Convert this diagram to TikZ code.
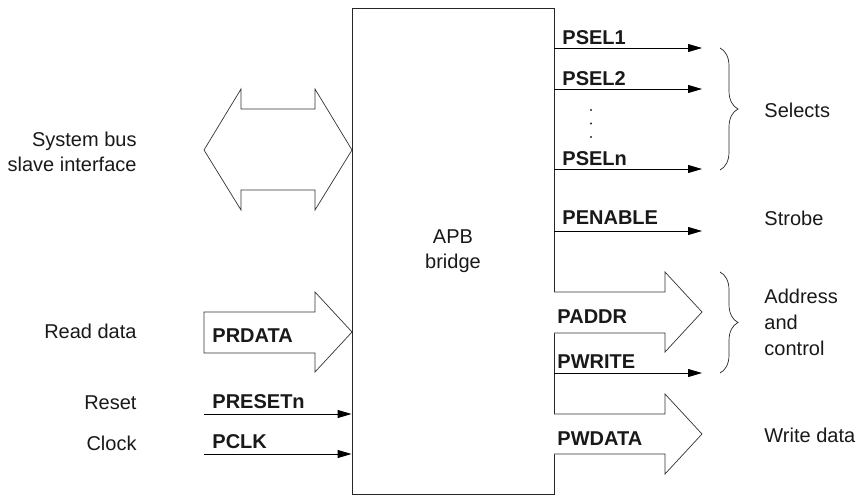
\documentclass[tikz,border=0pt]{standalone}
\usepackage{fontspec}
\setmainfont{Liberation Sans}
\usetikzlibrary{arrows.meta,decorations.pathreplacing}
\tikzset{
  txt/.style={font=\fontsize{20}{25}\selectfont, inner sep=0pt, text=black!90},
  sig/.style={txt, font=\bfseries\fontsize{20}{25}\selectfont, anchor=base west},
  fat/.style={draw=black!80, fill=white, line width=0.7pt},
  curly/.style={draw=black!85, line width=0.7pt, decorate, decoration={brace, amplitude=18pt}}
}
\begin{document}
\begin{tikzpicture}[x=1pt, y=-1pt, line width=0.9pt, >={Triangle[length=14pt,width=8pt]}]
\useasboundingbox (0,0) rectangle (866,503);
% bridge
\node[draw=black!85, txt, minimum width=202pt, minimum height=486pt, align=center] (apb) at (453,251) {APB\\bridge};
% system bus side
\draw[fat] (204,150) -- (241,89) -- (241,109) -- (315,109) -- (315,89) -- (352,150)
  -- (315,210) -- (315,190) -- (241,190) -- (241,210) -- cycle;
\node[txt, anchor=north east, align=right] (sysbus) at (137,131.5) {System bus\\slave interface};
\draw[fat] (204,312) -- (315,312) -- (315,292) -- (352,332) -- (315,372) -- (315,353) -- (204,353) -- cycle;
\node[sig] (prdata) at (212,342) {PRDATA};
\node[txt, anchor=base east] (readdata) at (137,338) {Read data};
\coordinate (rst) at (204,414);
\coordinate (clk) at (204,454);
\draw[->] (rst) -- (rst -| apb.west);
\draw[->] (clk) -- (clk -| apb.west);
\node[sig] (presetn) at (212,408) {PRESETn};
\node[sig] (pclk) at (212,448) {PCLK};
\node[txt, anchor=base east] (reset) at (137,409) {Reset};
\node[txt, anchor=base east] (clock) at (137,450) {Clock};
% selects
\coordinate (s1) at (702,48);
\coordinate (s2) at (702,89);
\coordinate (sn) at (702,169);
\coordinate (en) at (702,231);
\coordinate (wr) at (702,373);
\draw[->] (apb.east |- s1) -- (s1);
\draw[->] (apb.east |- s2) -- (s2);
\draw[->] (apb.east |- sn) -- (sn);
\draw[->] (apb.east |- en) -- (en);
\draw[->] (apb.east |- wr) -- (wr);
\node[sig] (psel1) at (562,45) {PSEL1};
\node[sig] (psel2) at (562,85) {PSEL2};
\node[sig] (pseln) at (562,165) {PSELn};
\foreach \y in {110,123.5,137} \fill[black!85] (591,\y) circle (1.1pt);
\node[sig] (penable) at (562,224) {PENABLE};
\draw[curly] (720,48) -- (720,170);
\node[txt, anchor=base west] (selects) at (764,117) {Selects};
\node[txt, anchor=base west] (strobe) at (764,225) {Strobe};
% address, control, write data
\draw[fat] (554,292) -- (665,292) -- (665,272) -- (702,312) -- (665,352) -- (665,333) -- (554,333);
\draw[fat] (554,414) -- (665,414) -- (665,394) -- (702,434) -- (665,474) -- (665,454) -- (554,454);
\node[sig] (paddr) at (557,323) {PADDR};
\node[sig] (pwrite) at (557,368) {PWRITE};
\node[sig] (pwdata) at (557,445) {PWDATA};
\draw[curly] (720,272) -- (720,373);
\node[txt, anchor=north west, align=left, font=\fontsize{20}{26}\selectfont] (addr) at (764,288.5) {Address\\and\\control};
\node[txt, anchor=base west] (wdata) at (764,442) {Write data};
\end{tikzpicture}
\end{document}
